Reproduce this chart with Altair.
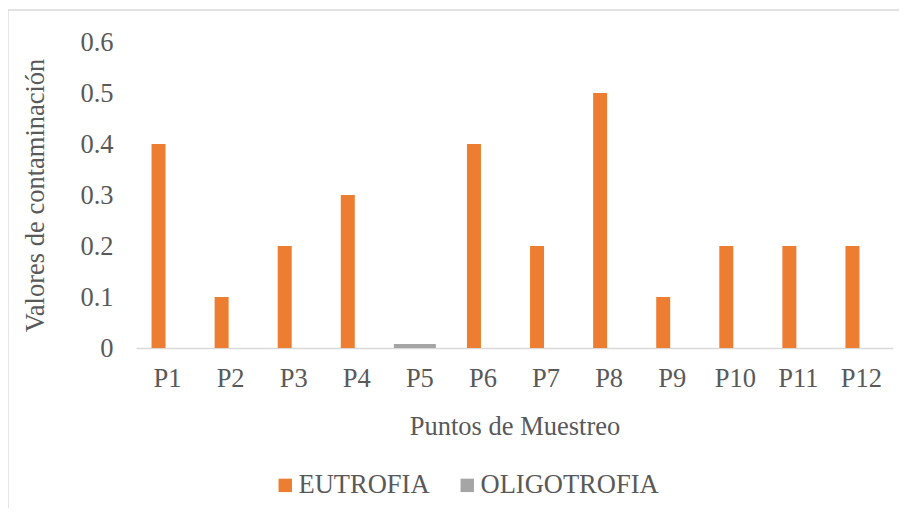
import altair as alt
import pandas as pd

categories = ["P1", "P2", "P3", "P4", "P5", "P6", "P7", "P8", "P9", "P10", "P11", "P12"]
eutrofia = [0.4, 0.1, 0.2, 0.3, 0.0, 0.4, 0.2, 0.5, 0.1, 0.2, 0.2, 0.2]
oligotrofia = [0.0, 0.0, 0.0, 0.0, 0.008, 0.0, 0.0, 0.0, 0.0, 0.0, 0.0, 0.0]
series = ["EUTROFIA", "OLIGOTROFIA"]
colors = ["#ED7D31", "#A5A5A5"]
y_ticks = [0, 0.1, 0.2, 0.3, 0.4, 0.5, 0.6]

df_e = pd.DataFrame({"Punto": categories, "Valor": eutrofia, "Serie": series[0]})
df_o = pd.DataFrame({"Punto": categories, "Valor": oligotrofia, "Serie": series[1]})
df_e = df_e[df_e["Valor"] > 0]
df_o = df_o[df_o["Valor"] > 0]

FONT = "'Liberation Serif', 'Times New Roman', serif"
TXT = "#595959"
FS = 26.5

x_enc = alt.X(
    "Punto:N",
    sort=categories,
    scale=alt.Scale(paddingInner=0, paddingOuter=0),
    axis=alt.Axis(
        title="Puntos de Muestreo",
        labelAngle=0,
        ticks=False,
        tickSize=0,
        labelPadding=17,
        titlePadding=22,
        domainColor="#D9D9D9",
        domainWidth=1.3,
        grid=False,
    ),
)
y_enc = alt.Y(
    "Valor:Q",
    scale=alt.Scale(domain=[0, 0.6], nice=False),
    axis=alt.Axis(
        title="Valores de contaminación",
        values=y_ticks,
        format=".1~f",
        ticks=False,
        tickSize=0,
        domain=False,
        grid=False,
        labelPadding=23,
        titlePadding=30,
    ),
)
color_enc = alt.Color(
    "Serie:N",
    scale=alt.Scale(domain=series, range=colors),
    legend=alt.Legend(
        title=None,
        orient="none",
        legendX=136,
        legendY=430,
        direction="horizontal",
        symbolType="square",
        symbolSize=180,
        symbolStrokeWidth=0,
        labelFontSize=FS,
        labelFont=FONT,
        labelColor=TXT,
        labelLimit=400,
        columnPadding=24,
        labelOffset=0,
    ),
)

frame = alt.Chart(pd.DataFrame({"a": [0]})).mark_rect(
    fill="white", fillOpacity=0, stroke="#D9D9D9", strokeWidth=1.3
).encode(
    x=alt.value(-128), x2=alt.value(800), y=alt.value(-32), y2=alt.value(600)
)

bars_e = alt.Chart(df_e).mark_bar(width=14, xOffset=-9).encode(
    x=x_enc, y=y_enc, color=color_enc
)
bars_o = alt.Chart(df_o).mark_bar(width=42, xOffset=-5).encode(
    x=x_enc, y=y_enc, color=color_enc
)

chart = (
    alt.layer(frame, bars_e, bars_o)
    .properties(
        width=757,
        height=306,
        autosize=alt.AutoSizeParams(type="none"),
        padding={"left": 128, "top": 34, "right": 6, "bottom": 160},
    )
    .configure_view(stroke=None)
    .configure_axis(
        labelFont=FONT,
        titleFont=FONT,
        labelFontSize=FS,
        titleFontSize=FS,
        labelColor=TXT,
        titleColor=TXT,
        titleFontWeight="normal",
    )
)

chart.save("out.html", embed_options={"renderer": "svg", "actions": False})
